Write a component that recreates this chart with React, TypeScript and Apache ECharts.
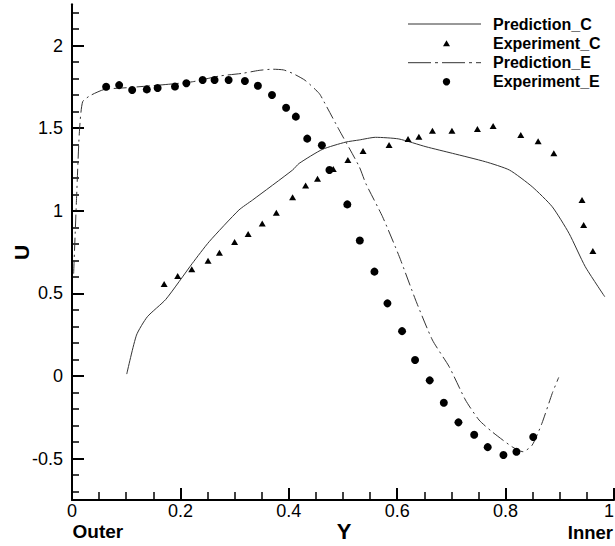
import React, { useEffect, useRef } from "react";
import * as echarts from "echarts";

// ---- Data ----
const predictionC: [number, number][] = [
  [0.101, 0.012], [0.119, 0.248], [0.139, 0.359], [0.173, 0.464], [0.222, 0.682],
  [0.253, 0.813], [0.308, 1.005], [0.333, 1.065], [0.407, 1.247], [0.419, 1.287],
  [0.462, 1.372], [0.505, 1.416], [0.53, 1.429], [0.56, 1.445], [0.603, 1.435],
  [0.653, 1.388], [0.702, 1.348], [0.763, 1.297], [0.807, 1.247], [0.849, 1.146],
  [0.886, 1.025], [0.917, 0.864], [0.947, 0.662], [0.983, 0.48],
];

const experimentC: [number, number][] = [
  [0.17, 0.557], [0.195, 0.605], [0.221, 0.646], [0.251, 0.698], [0.272, 0.746],
  [0.3, 0.811], [0.325, 0.86], [0.351, 0.924], [0.377, 0.989], [0.407, 1.082],
  [0.431, 1.154], [0.453, 1.194], [0.482, 1.253], [0.509, 1.308], [0.537, 1.362],
  [0.585, 1.398], [0.62, 1.435], [0.64, 1.449], [0.665, 1.485], [0.701, 1.485],
  [0.748, 1.495], [0.777, 1.513], [0.828, 1.459], [0.86, 1.421], [0.889, 1.348],
  [0.941, 1.065], [0.944, 0.914], [0.961, 0.757],
];

const predictionE: [number, number][] = [
  [0.003, 0.62], [0.0085, 1.085], [0.0135, 1.47], [0.0196, 1.66], [0.035, 1.7],
  [0.06, 1.735], [0.1, 1.745], [0.161, 1.761], [0.222, 1.781], [0.272, 1.816],
  [0.314, 1.832], [0.345, 1.85], [0.37, 1.857], [0.39, 1.853], [0.407, 1.832],
  [0.43, 1.79], [0.456, 1.711], [0.465, 1.66], [0.493, 1.489], [0.53, 1.267],
  [0.542, 1.166], [0.573, 0.964], [0.604, 0.722], [0.634, 0.46], [0.665, 0.218],
  [0.696, 0.056], [0.726, -0.145], [0.751, -0.266], [0.775, -0.337], [0.812, -0.428],
  [0.832, -0.458], [0.849, -0.418], [0.867, -0.286], [0.886, -0.105], [0.898, -0.008],
];

const experimentE: [number, number][] = [
  [0.063, 1.751], [0.087, 1.761], [0.111, 1.731], [0.138, 1.735], [0.158, 1.743],
  [0.19, 1.753], [0.211, 1.772], [0.241, 1.792], [0.263, 1.792], [0.289, 1.792],
  [0.319, 1.786], [0.343, 1.757], [0.369, 1.701], [0.395, 1.624], [0.413, 1.57],
  [0.434, 1.437], [0.461, 1.397], [0.475, 1.247], [0.508, 1.039], [0.531, 0.821],
  [0.558, 0.632], [0.582, 0.44], [0.609, 0.272], [0.633, 0.097], [0.66, -0.026],
  [0.686, -0.161], [0.713, -0.28], [0.742, -0.355], [0.767, -0.43], [0.796, -0.478],
  [0.82, -0.458], [0.851, -0.369],
];

const yMajorTicks = [-0.5, 0, 0.5, 1, 1.5, 2];
const yMinorTicks = [
  -0.7, -0.6, -0.4, -0.3, -0.2, -0.1, 0.1, 0.2, 0.3, 0.4, 0.6, 0.7, 0.8, 0.9,
  1.1, 1.2, 1.3, 1.4, 1.6, 1.7, 1.8, 1.9, 2.1, 2.2,
];
const seriesNames = ["Prediction_C", "Experiment_C", "Prediction_E", "Experiment_E"];

const FONT = "'Liberation Sans', Arial, sans-serif";
const LINE_COLOR = "#333";

export default function App() {
  const ref = useRef<HTMLDivElement>(null);

  useEffect(() => {
    if (!ref.current) return;
    const chart = echarts.init(ref.current, undefined, { renderer: "svg" });

    const legendX1 = 408;
    const legendX2 = 481;
    const legendTextX = 493;
    const legendMarkX = 446.5;
    const rows = [24, 43.3, 62.7, 81.7];

    chart.setOption({
      animation: false,
      backgroundColor: "#fff",
      grid: {
        left: 72,
        top: 4.3,
        width: 542,
        height: 495.7,
        containLabel: false,
        outerBoundsMode: "none",
      },
      xAxis: {
        type: "value",
        min: 0,
        max: 1,
        interval: 0.2,
        axisLine: { show: true, onZero: false, lineStyle: { color: "#000", width: 2 } },
        axisTick: { show: true, inside: true, length: 12, lineStyle: { color: "#000", width: 2 } },
        minorTick: { show: true, splitNumber: 4, length: 8, lineStyle: { color: "#000", width: 1.5 } },
        axisLabel: {
          color: "#000",
          fontSize: 18,
          lineHeight: 16,
          fontFamily: FONT,
          margin: 3,
          alignMaxLabel: "right",
        },
        splitLine: { show: false },
      },
      yAxis: [
        {
          type: "value",
          min: -0.75,
          max: 2.25,
          position: "left",
          axisLine: { show: true, onZero: false, lineStyle: { color: "#000", width: 2 } },
          axisTick: {
            show: true,
            inside: true,
            length: 12,
            customValues: yMajorTicks,
            lineStyle: { color: "#000", width: 2 },
          },
          axisLabel: {
            color: "#000",
            fontSize: 18,
            fontFamily: FONT,
            margin: 9,
            customValues: yMajorTicks,
          },
          splitLine: { show: false },
        },
        {
          type: "value",
          min: -0.75,
          max: 2.25,
          position: "left",
          offset: 0,
          axisLine: { show: false },
          axisTick: {
            show: true,
            inside: true,
            length: 7,
            customValues: yMinorTicks,
            lineStyle: { color: "#000", width: 1.5 },
          },
          axisLabel: { show: false },
          splitLine: { show: false },
        },
      ],
      series: [
        {
          name: seriesNames[0],
          type: "line",
          data: predictionC,
          showSymbol: false,
          smooth: 0.2,
          lineStyle: { color: LINE_COLOR, width: 1 },
          z: 2,
        },
        {
          name: seriesNames[1],
          type: "scatter",
          data: experimentC,
          symbol: "triangle",
          symbolSize: [7, 6],
          itemStyle: { color: "#000", opacity: 1 },
          z: 3,
        },
        {
          name: seriesNames[2],
          type: "line",
          data: predictionE,
          showSymbol: false,
          smooth: 0.2,
          lineStyle: { color: LINE_COLOR, width: 1, type: [13, 4, 2, 4] },
          z: 2,
        },
        {
          name: seriesNames[3],
          type: "scatter",
          data: experimentE,
          symbol: "circle",
          symbolSize: 8,
          itemStyle: { color: "#000", opacity: 1 },
          z: 3,
        },
      ],
      graphic: [
        // legend
        {
          type: "line",
          shape: { x1: legendX1, y1: rows[0], x2: legendX2, y2: rows[0] },
          style: { stroke: LINE_COLOR, lineWidth: 1 },
        },
        {
          type: "polygon",
          shape: {
            points: [
              [legendMarkX, rows[1] - 3],
              [legendMarkX + 3.5, rows[1] + 3],
              [legendMarkX - 3.5, rows[1] + 3],
            ],
          },
          style: { fill: "#000" },
        },
        {
          type: "line",
          shape: { x1: legendX1, y1: rows[2], x2: legendX2, y2: rows[2] },
          style: { stroke: LINE_COLOR, lineWidth: 1, lineDash: [23, 4, 3, 4] },
        },
        {
          type: "circle",
          shape: { cx: legendMarkX, cy: rows[3], r: 3.7 },
          style: { fill: "#000" },
        },
        ...seriesNames.map((name, i) => ({
          type: "text",
          x: legendTextX,
          y: rows[i],
          style: {
            text: name,
            fill: "#000",
            font: `bold 16px ${FONT}`,
            lineHeight: 17,
            align: "left",
            verticalAlign: "middle",
          },
        })),
        // axis titles
        {
          type: "text",
          x: 21.3,
          y: 252.5,
          rotation: Math.PI / 2,
          style: {
            text: "U",
            fill: "#000",
            font: `bold 21px ${FONT}`,
            align: "center",
            verticalAlign: "middle",
          },
        },
        {
          type: "text",
          x: 344,
          y: 531.5,
          style: {
            text: "Y",
            fill: "#000",
            font: `bold 22px ${FONT}`,
            lineHeight: 18,
            align: "center",
            verticalAlign: "middle",
          },
        },
        {
          type: "text",
          x: 72.5,
          y: 531,
          style: {
            text: "Outer",
            fill: "#000",
            font: `bold 19px ${FONT}`,
            lineHeight: 16,
            align: "left",
            verticalAlign: "middle",
          },
        },
        {
          type: "text",
          x: 613,
          y: 532,
          style: {
            text: "Inner",
            fill: "#000",
            font: `bold 18.5px ${FONT}`,
            lineHeight: 16,
            align: "right",
            verticalAlign: "middle",
          },
        },
      ],
    });

    return () => chart.dispose();
  }, []);

  return (
    <div
      ref={ref}
      style={{ position: "fixed", left: 0, top: 0, width: 615, height: 546, background: "#fff" }}
    />
  );
}
